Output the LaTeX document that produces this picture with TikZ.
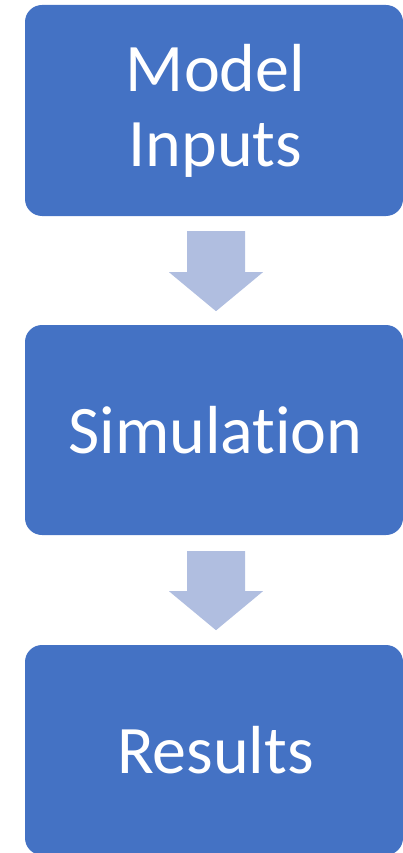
\documentclass[tikz,border=0pt]{standalone}
\usepackage{fontspec}
\setmainfont{Carlito}[Ligatures={NoCommon,NoContextual}]
\definecolor{boxblue}{HTML}{4472C4}
\definecolor{arrowblue}{HTML}{B0BEE0}
\begin{document}
\begin{tikzpicture}[x=1pt,y=-1pt,
  stagebox/.style={draw=none, fill=boxblue, rounded corners=17pt,
    minimum width=378pt, inner sep=0pt, text=white, align=center,
    font=\fontsize{68}{75}\selectfont},
  blockarrow/.style={fill=arrowblue, draw=none}]
\useasboundingbox (0,0) rectangle (403,853);
\node[stagebox, minimum height=211pt] (inputs) at (214,110.5) {\hspace*{3pt}Model\\\hspace*{3pt}Inputs};
\node[stagebox, minimum height=210pt] (sim) at (214,430) {\hspace*{3pt}Simulat\kern0pt ion};
\node[stagebox, minimum height=210pt] (results) at (214,750) {\hspace*{3pt}Results};
% block arrows between the stages
\path (inputs.south -| 216,0) ++(0,15) coordinate (a1);
\fill[blockarrow] (a1) ++(-29,0) -- ++(58,0) -- ++(0,41) -- ++(18,0)
  -- ++(-47,39) -- ++(-47,-39) -- ++(18,0) -- cycle;
\path (sim.south -| 216,0) ++(0,16) coordinate (a2);
\fill[blockarrow] (a2) ++(-29,0) -- ++(58,0) -- ++(0,40) -- ++(18,0)
  -- ++(-47,39) -- ++(-47,-39) -- ++(18,0) -- cycle;
\end{tikzpicture}
\end{document}
